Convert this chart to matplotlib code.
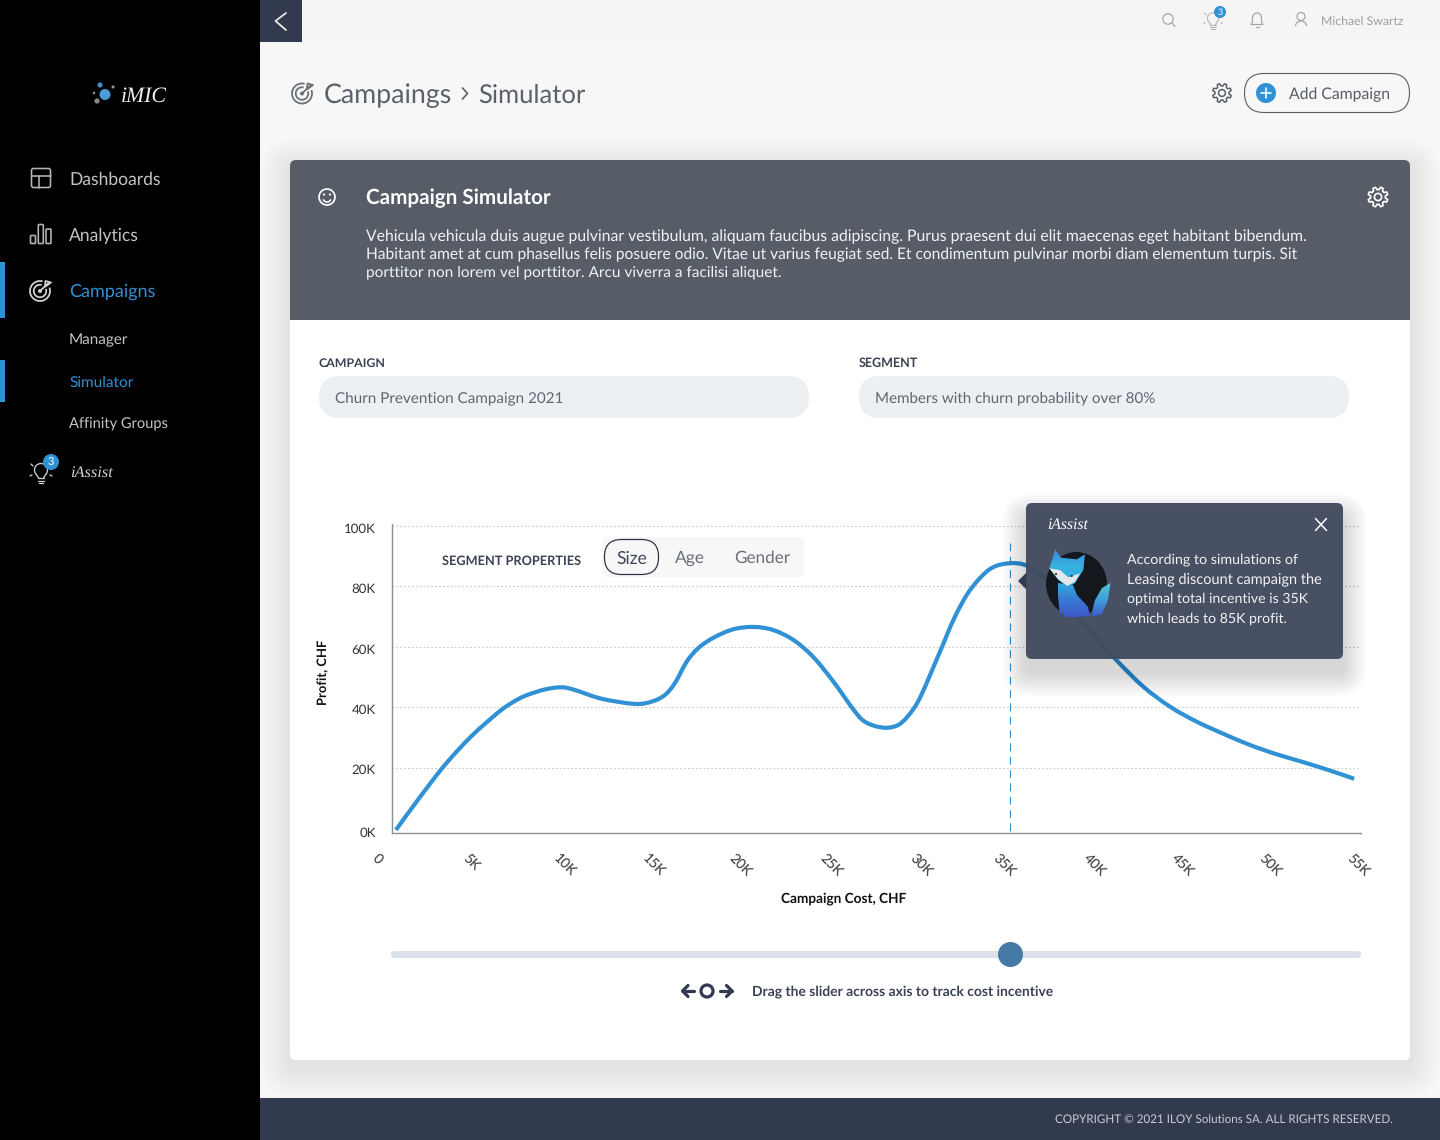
import numpy as np
import matplotlib
matplotlib.use('Agg')
import matplotlib.pyplot as plt
from matplotlib.patches import Circle, FancyBboxPatch, Polygon, Rectangle, Arc, Ellipse, PathPatch
from matplotlib.path import Path
from matplotlib.colors import LinearSegmentedColormap
from matplotlib.transforms import Affine2D

plt.rcParams['font.family'] = ['Lato', 'DejaVu Sans']
plt.rcParams['text.hinting'] = 'no_hinting'

# values (thousands of CHF)
cost_k = [0.24, 1.51, 3.02, 4.54, 6.05, 6.80, 7.56, 8.70, 9.65, 10.40, 11.92, 13.80, 14.77, 15.51, 16.07, 16.74,
          17.40, 18.25, 19.37, 20.52, 21.63, 22.79, 23.91, 25.06, 26.19, 26.75, 27.41, 28.09, 28.73, 29.30,
          29.98, 31.11, 31.87, 32.63, 33.38, 34.13, 35.08, 36.03, 37.16, 38.09, 40.00, 41.14, 42.65, 44.16,
          45.68, 47.19, 48.70, 50.22, 51.73, 53.25, 54.61]
profit_k = [-0.66, 9.5, 20.9, 30.5, 38.3, 41.4, 43.75, 45.9, 46.6, 45.7, 42.8, 41.1, 41.9, 44.1, 48.0, 55.1,
            59.6, 63.0, 65.8, 66.6, 65.6, 62.3, 56.7, 48.5, 39.3, 35.6, 33.8, 33.2, 34.1, 37.1,
            43.2, 58.4, 68.9, 77.2, 82.8, 86.4, 87.7, 86.9, 82.2, 75.9, 62.9, 55.5, 46.8, 40.2,
            35.2, 31.2, 27.5, 24.4, 21.8, 19.0, 16.3]
y_ticks = [0, 20, 40, 60, 80, 100]
y_labels = ['0K', '20K', '40K', '60K', '80K', '100K']
x_ticks = [0, 5, 10, 15, 20, 25, 30, 35, 40, 45, 50, 55]
x_labels = ['0', '5K', '10K', '15K', '20K', '25K', '30K', '35K', '40K', '45K', '50K', '55K']
optimal_cost = 35.08

paragraph = ['Vehicula vehicula duis augue pulvinar vestibulum, aliquam faucibus adipiscing. Purus praesent dui elit maecenas eget habitant bibendum.',
             'Habitant amet at cum phasellus felis posuere odio. Vitae ut varius feugiat sed. Et condimentum pulvinar morbi diam elementum turpis. Sit',
             'porttitor non lorem vel porttitor. Arcu viverra a facilisi aliquet.']
tip_lines = ['According to simulations of', 'Leasing discount campaign the',
             'optimal total incentive is 35K', 'which leads to 85K profit.']

BLUE = '#3191d5'
NAVY = '#323a4f'
SLATE = '#565d66'
NAV = '#c4c4c4'

fig = plt.figure(figsize=(14.4, 11.4), dpi=100, facecolor='#f7f7f7')
renderer = fig.canvas.get_renderer()


def ui_axes(z):
    a = fig.add_axes([0, 0, 1, 1], zorder=z)
    a.set_xlim(0, 1440)
    a.set_ylim(1140, 0)
    a.axis('off')
    a.patch.set_alpha(0)
    return a


bg = ui_axes(0)
side = ui_axes(0.5)
fg = ui_axes(5)


def txt(a, x, y, s, px, w=None, color='#333333', ha='left', weight='normal', **kw):
    # px is the font size in pixels, w the width the string has in the reference
    t = a.text(x, y + 0.08 * px, s, fontsize=px * 0.72, color=color, ha=ha, va='center', weight=weight, **kw)
    if w:
        for _ in range(2):
            cur = t.get_window_extent(renderer).width
            t.set_fontsize(t.get_fontsize() * w / cur)
    return t


def round_box(a, x0, y0, x1, y1, r, fc='none', ec='none', lw=0, alpha=None, z=2):
    p = FancyBboxPatch((x0 + r, y0 + r), x1 - x0 - 2 * r, y1 - y0 - 2 * r,
                       boxstyle=f'round,pad={r},rounding_size={r}',
                       fc=fc, ec=ec, lw=lw * 0.72, alpha=alpha, zorder=z)
    a.add_patch(p)
    return p


def shadow(a, x0, y0, x1, y1, dy, spread, n, alpha, z=1):
    for i in range(n):
        e = spread * (1 - i / n)
        round_box(a, x0 - e, y0 - e + dy, x1 + e, y1 + e + dy, 6 + e, fc='black', alpha=alpha, z=z)


def line(a, xs, ys, color, lw=1.5, z=3, **kw):
    a.plot(xs, ys, color=color, lw=lw * 0.72, zorder=z, solid_capstyle='round', **kw)


def ring(a, x, y, r, color, lw=1.5, z=3, fc='none'):
    a.add_patch(Circle((x, y), r, fc=fc, ec=color, lw=lw * 0.72, zorder=z))


def gear(a, x, y, r, color, lw=1.5):
    ang = np.deg2rad(np.arange(0, 360, 7.5)) + np.pi / 8
    rad = np.where(((np.arange(48) + 1) % 6) < 3, r, r * 0.74)
    a.add_patch(Polygon(np.c_[x + rad * np.cos(ang), y + rad * np.sin(ang)], closed=True, fc='none',
                        ec=color, lw=lw * 0.72, joinstyle='round', zorder=3))
    ring(a, x, y, r * 0.36, color, lw)


def target(a, x, y, r, color, lw=2):
    a.add_patch(Arc((x, y), 2 * r, 2 * r, theta1=-20, theta2=285, ec=color, lw=lw * 0.72, zorder=3))
    a.add_patch(Arc((x, y), 1.25 * r, 1.25 * r, theta1=-20, theta2=285, ec=color, lw=lw * 0.72, zorder=3))
    a.add_patch(Circle((x, y), 0.2 * r, fc=color, zorder=3))
    line(a, [x, x + 0.9 * r], [y, y - 0.85 * r], color, lw)
    line(a, [x + 0.5 * r, x + 0.55 * r, x + 1.1 * r, x + 0.55 * r], [y - 0.5 * r, y - 1.0 * r, y - 0.85 * r, y - 0.45 * r], color, lw)


def bulb(a, x, y, color, lw=1.3, s=1.0):
    a.add_patch(Arc((x, y - 2 * s), 13 * s, 13 * s, theta1=140, theta2=40, ec=color, lw=lw * 0.72, zorder=3))
    line(a, [x - 5 * s, x - 2.5 * s], [y + 2 * s, y + 6 * s], color, lw)
    line(a, [x + 5 * s, x + 2.5 * s], [y + 2 * s, y + 6 * s], color, lw)
    line(a, [x - 3 * s, x + 3 * s], [y + 6 * s, y + 6 * s], color, lw)
    line(a, [x - 3 * s, x + 3 * s], [y + 8.5 * s, y + 8.5 * s], color, lw)
    line(a, [x - 2 * s, x + 2 * s], [y + 11 * s, y + 11 * s], color, lw)
    for dx0, dy0, dx1, dy1 in [(-10, -8, -8, -6), (-11, 4, -9, 3), (9, 3, 11, 4)]:
        line(a, [x + dx0 * s, x + dx1 * s], [y + dy0 * s, y + dy1 * s], color, lw)


def badge(a, x, y, r, px):
    a.add_patch(Circle((x, y), r, fc=BLUE, zorder=4))
    txt(a, x, y, '3', px, color='white', ha='center', zorder=5)


def smooth_path(xs, ys):
    # bezier segments through the read points, same look as the svg curve
    p = np.c_[xs, ys]
    verts = [p[0]]
    codes = [Path.MOVETO]
    for i in range(len(p) - 1):
        p0 = p[max(i - 1, 0)]
        p3 = p[min(i + 2, len(p) - 1)]
        verts += [p[i] + (p[i + 1] - p0) / 6, p[i + 1] - (p3 - p[i]) / 6, p[i + 1]]
        codes += [Path.CURVE4] * 3
    return Path(verts, codes)


# page frame
bg.add_patch(Rectangle((260, 0), 1180, 42, fc='#f5f5f5', zorder=1))
bg.add_patch(Rectangle((0, 0), 260, 1140, fc='black', zorder=6))
bg.add_patch(Rectangle((260, 0), 42, 42, fc=NAVY, zorder=2))
line(bg, [286, 275.5, 286], [13, 21, 30], '#e8e8e8', 1.8)
bg.add_patch(Rectangle((260, 1098), 1180, 42, fc=NAVY, zorder=2))
txt(bg, 1055, 1119, 'COPYRIGHT © 2021 ILOY Solutions SA. ALL RIGHTS RESERVED.', 12, w=340, color='#c9ccd1')

# sidebar
for x, y, r, c in [(105, 94.5, 5.5, '#4a9bd8'), (100, 85, 2.6, '#3f8fd0'), (113, 87, 1.5, '#9a9a9a'),
                   (97, 101, 2.6, '#8a8a8a'), (94, 93, 1.2, '#9a9a9a')]:
    side.add_patch(Circle((x, y), r, fc=c, zorder=7))
txt(side, 121, 95, 'iMIC', 24, w=46, color='#f0f0f0', family='Liberation Serif', style='italic', zorder=7)
txt(side, 69, 178, 'Dashboards', 17, w=92, color=NAV, zorder=7)
txt(side, 69, 234, 'Analytics', 17, w=70, color=NAV, zorder=7)
txt(side, 69, 290, 'Campaigns', 17, w=86, color=BLUE, zorder=7)
txt(side, 69, 339, 'Manager', 15, w=59, color=NAV, zorder=7)
txt(side, 69, 381, 'Simulator', 15, w=64, color=BLUE, zorder=7)
txt(side, 69, 423, 'Affinity Groups', 15, w=99, color=NAV, zorder=7)
txt(side, 70, 472, 'iAssist', 17, w=43, color='#d0d0d0', family='Liberation Serif', style='italic', zorder=7)
side.add_patch(Rectangle((0, 262), 5, 56, fc=BLUE, zorder=7))
side.add_patch(Rectangle((0, 360), 5, 42, fc=BLUE, zorder=7))
round_box(side, 31.5, 168.5, 50.5, 187.5, 2, ec='#b5b5b5', lw=1.6, z=3)
line(side, [31.5, 50.5], [175.5, 175.5], '#b5b5b5', 1.6)
line(side, [38.5, 38.5], [175.5, 187.5], '#b5b5b5', 1.6)
for x0, y0 in [(30.5, 235.5), (38.3, 224.5), (46, 229)]:
    round_box(side, x0, y0, x0 + 5, 243.5, 1, ec='#b5b5b5', lw=1.6, z=3)
target(side, 40, 291, 10, '#cfcfcf', 1.8)
bulb(side, 41, 472, '#cfcfcf')
badge(side, 51, 462, 8, 11)

# top bar
ring(fg, 1168, 19, 5.2, '#a5a5a5', 1.2)
line(fg, [1172, 1175], [23, 26.5], '#a5a5a5', 1.2)
bulb(fg, 1213, 20, '#b5b5b5', 1.1, s=0.85)
badge(fg, 1220, 12, 6, 9)
fg.add_patch(Arc((1257, 18), 9, 10, theta1=180, theta2=360, ec='#a5a5a5', lw=0.9, zorder=3))
line(fg, [1252.5, 1252.5, 1251, 1263, 1261.5, 1261.5], [18, 22, 24.5, 24.5, 22, 18], '#a5a5a5', 1.2)
line(fg, [1255.5, 1258.5], [27, 27], '#a5a5a5', 1.2)
ring(fg, 1301, 16.5, 4, '#a5a5a5', 1.2)
fg.add_patch(Arc((1301, 26), 11, 10, theta1=180, theta2=360, ec='#a5a5a5', lw=0.9, zorder=3))
txt(fg, 1321, 21, 'Michael Swartz', 12, w=83, color='#9a9ea4')

# page title
target(fg, 302, 93.5, 10, '#6b7178', 1.8)
txt(fg, 324, 93.5, 'Campaings', 26, w=128, color='#5a616b')
line(fg, [462.5, 467.5, 462.5], [88, 93.5, 99], '#5a616b', 1.7)
txt(fg, 478.5, 93, 'Simulator', 26, w=107, color='#5a616b')
gear(fg, 1222, 93, 9.5, SLATE, 1.5)
round_box(fg, 1244.5, 73.5, 1409.5, 112.5, 19.5, fc='none', ec=SLATE, lw=1.1)
fg.add_patch(Circle((1266, 93), 10, fc=BLUE, zorder=3))
line(fg, [1261, 1271], [93, 93], 'white', 1.6, z=4)
line(fg, [1266, 1266], [88, 98], 'white', 1.6, z=4)
txt(fg, 1289, 93, 'Add Campaign', 16, w=101, color=SLATE)

# card
shadow(bg, 290, 160, 1410, 1060, 8, 30, 20, 0.0035)
round_box(bg, 290, 160, 1410, 1060, 6, fc='white', z=2)
round_box(bg, 290, 160, 1410, 210, 6, fc=SLATE, z=3)
bg.add_patch(Rectangle((290, 175), 1120, 145, fc=SLATE, zorder=3))
ring(fg, 327, 197, 8, 'white', 1.7)
fg.add_patch(Arc((327, 198), 8, 8, theta1=20, theta2=160, ec='white', lw=1.1, zorder=3))
fg.add_patch(Circle((324, 194.5), 1.1, fc='white', zorder=3))
fg.add_patch(Circle((330, 194.5), 1.1, fc='white', zorder=3))
txt(fg, 366, 197, 'Campaign Simulator', 20, w=184, color='white', weight='bold')
gear(fg, 1378, 197, 10, 'white', 1.7)
for y, s, w in zip([235, 253, 271], paragraph, [940, 937, 418]):
    txt(fg, 366, y, s, 15, w=w, color='#f1f2f3')

# selectors
txt(bg, 319, 362, 'CAMPAIGN', 13, w=67, color='#3a4254', weight='bold', zorder=4)
txt(bg, 859, 362, 'SEGMENT', 13, w=59, color='#3a4254', weight='bold', zorder=4)
round_box(bg, 319, 376, 809, 418, 21, fc='#edf0f2', z=3)
round_box(bg, 859, 376, 1349, 418, 21, fc='#edf0f2', z=3)
txt(bg, 335, 397, 'Churn Prevention Campaign 2021', 15, w=228, color='#5e6670', zorder=4)
txt(bg, 875, 397, 'Members with churn probability over 80%', 15, w=281, color='#5e6670', zorder=4)

# chart
L, R, T, B = 391.7, 1361, 524, 832.5
ax = fig.add_axes([L / 1440, (1140 - B) / 1140, (R - L) / 1440, (B - T) / 1140], zorder=2)
ax.patch.set_alpha(0)
ax.add_patch(PathPatch(smooth_path(cost_k, profit_k), fc='none', ec=BLUE, lw=3.0,
                       capstyle='butt', joinstyle='round', zorder=3))
ax.plot([optimal_cost, optimal_cost], [94.4, -1.5], color=BLUE, lw=0.8, dashes=(7, 5), zorder=4)
ax.set_xlim(0, 55)
ax.set_ylim(-1.5, 100.7)
ax.set_yticks(y_ticks[1:])
ax.set_yticklabels(y_labels[1:])
ax.set_yticks([0], labels=[y_labels[0]], minor=True)
ax.set_xticks(x_ticks)
ax.set_xticklabels(x_labels, rotation=-45, ha='center', va='top')
ax.tick_params(axis='both', which='both', length=0, labelcolor='#333333')
ax.tick_params(axis='y', which='both', pad=11.5, labelsize=9.5)
ax.tick_params(axis='x', pad=14, labelsize=10)
ax.grid(axis='y', color='#c9c9c9', lw=0.8, ls=(0, (1.5, 2)))
ax.set_axisbelow(True)
for s in ['top', 'right']:
    ax.spines[s].set_visible(False)
for s in ['left', 'bottom']:
    ax.spines[s].set_color('#8b8f94')
    ax.spines[s].set_linewidth(1)
for lab in ax.get_yticklabels():
    lab.set_transform(lab.get_transform() + Affine2D().translate(0, -2))
for lab in ax.get_yticklabels(minor=True):
    lab.set_transform(lab.get_transform() + Affine2D().translate(0, -4))
# the labels do not sit exactly under their ticks in the original
for lab, dx in zip(ax.get_xticklabels(), [-14, -9, -3, -2, -4, -1, 1, -4, -2, -2, -3, -3]):
    lab.set_transform(lab.get_transform() + Affine2D().translate(dx, 0))

txt(bg, 323, 671, 'Profit, CHF', 13, color='#111111', weight='bold', ha='center', rotation=90, zorder=4)
txt(bg, 781, 898, 'Campaign Cost, CHF', 13, w=126, color='#111111', weight='bold', zorder=4)

# segment properties
txt(fg, 442, 560, 'SEGMENT PROPERTIES', 13, w=140, color='#3a4254', weight='bold')
round_box(bg, 602, 537, 804, 577, 6, fc='#f7f7f7', z=3)
round_box(fg, 604.5, 539.5, 658.5, 574.5, 17, ec='#2a3040', lw=1.2)
txt(fg, 616, 557, 'Size', 18, w=31, color='#3f4858')
txt(fg, 675, 557, 'Age', 18, w=30, color='#6a7078')
txt(fg, 734, 557, 'Gender', 18, w=56, color='#6a7078')

# tooltip
shadow(fg, 1026, 503, 1343, 659, 14, 24, 20, 0.007)
fg.add_patch(Polygon([[1018, 581], [1027, 572], [1027, 590]], closed=True, fc=NAVY, zorder=2))
round_box(fg, 1026, 503, 1343, 659, 6, fc='#424b5e', alpha=0.96, z=2)
txt(fg, 1047, 524, 'iAssist', 17, w=41, color='white', family='Liberation Serif', style='italic')
line(fg, [1315.5, 1326.5], [518.5, 530.5], 'white', 1.5)
line(fg, [1315.5, 1326.5], [530.5, 518.5], 'white', 1.5)
for y, s, w in zip([558, 578, 598, 618], tip_lines, [171, 195, 182, 160]):
    txt(fg, 1127, y, s, 14, w=w, color='#f1f2f3')

# fox mascot
fg.add_patch(Ellipse((1076.5, 584), 61, 64, fc='#14181d', zorder=3))
fox_cmap = LinearSegmentedColormap.from_list('fox', ['#3d86dc', '#35b3e0', '#30aadc', '#3a78d4', '#3f55c8'])
tail_cmap = LinearSegmentedColormap.from_list('tail', ['#55c8d8', '#3f9bd8', '#3f55c8'])
grad = np.linspace(0, 1, 64).reshape(-1, 1)
fox_shapes = [([(1055, 549.3), (1061, 557.7), (1076.7, 559.3), (1085, 554.3), (1083.3, 570), (1075, 583.3),
                (1067.3, 586.7), (1058.3, 580), (1049.3, 568.3), (1052.7, 558.3)], fox_cmap, 618, 549),
              ([(1058, 583), (1073, 585), (1077, 595), (1088, 607), (1090, 616), (1077, 617), (1065, 617),
                (1063, 613), (1060, 615), (1058, 597)], fox_cmap, 618, 549),
              ([(1092, 612), (1095, 600), (1102, 588), (1110.5, 583), (1108, 600), (1102, 614), (1092, 617)],
               tail_cmap, 618, 583)]
for pts, cm, y_low, y_high in fox_shapes:
    clip = Polygon(pts, closed=True, fc='none', ec='none', transform=fg.transData, zorder=3)
    fg.add_patch(clip)
    im = fg.imshow(grad, extent=(1045, 1112, y_low, y_high), cmap=cm, aspect='auto', zorder=4)
    im.set_clip_path(clip)
fg.set_xlim(0, 1440)
fg.set_ylim(1140, 0)
fg.add_patch(Polygon([(1049.3, 568.3), (1060, 570), (1068.3, 577.3), (1080, 573.3), (1075, 581.7),
                      (1067.3, 586), (1058.3, 579.3)], closed=True, fc='#e4e7ee', zorder=5))
fg.add_patch(Circle((1056, 574), 1, fc='#1a1a2a', zorder=6))
fg.add_patch(Circle((1071.7, 576), 1, fc='#1a1a2a', zorder=6))

# slider
round_box(bg, 391, 951, 1361, 958, 3.5, fc='#dbe1e8', z=3)
bg.add_patch(Circle((1010.5, 954.5), 12.5, fc='#4579a6', zorder=4))
ring(fg, 707, 991, 6, NAVY, 3.2)
line(fg, [683, 694], [991, 991], NAVY, 3.2)
line(fg, [688, 682.5, 688], [985.5, 991, 996.5], NAVY, 3.2)
line(fg, [720, 732], [991, 991], NAVY, 3.2)
line(fg, [726.5, 732, 726.5], [985.5, 991, 996.5], NAVY, 3.2)
txt(fg, 752, 990, 'Drag the slider across axis to track cost incentive', 13, w=300, color='#3a4254', weight='bold')

fig.savefig('out.png', dpi=100, facecolor=fig.get_facecolor())
